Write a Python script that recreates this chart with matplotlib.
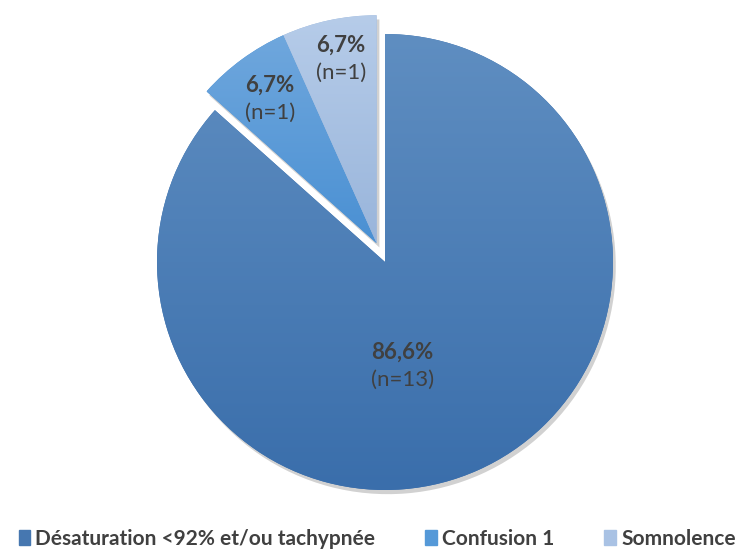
import numpy as np
import matplotlib
matplotlib.use("Agg")
import matplotlib.pyplot as plt
import matplotlib.patheffects as pe
from matplotlib.colors import LinearSegmentedColormap

categories = ["Désaturation <92% et/ou tachypnée", "Confusion 1", "Somnolence"]
percents = [86.6, 6.7, 6.7]
counts = [13, 1, 1]
pct_labels = ["86,6%", "6,7%", "6,7%"]

# gradient colours (top, bottom) per slice
grad = [("#5f8ec1", "#3a6eab"), ("#6fa7dd", "#4a90d3"), ("#b6cce9", "#99b5db")]
legend_col = ["#4677b0", "#5599d8", "#a9c2e4"]

plt.rcParams['font.family'] = ['Lato', 'DejaVu Sans']

fig = plt.figure(figsize=(7.54, 5.50), dpi=100)
R = 228  # px
half = 1.2
side = 2 * half * R
cx, cy = 385, 550 - 262
ax = fig.add_axes([(cx - side / 2) / 754, (cy - side / 2) / 550, side / 754, side / 550])
ax.set_xlim(-half, half)
ax.set_ylim(-half, half)
ax.set_aspect("equal")
ax.axis("off")

wedges, _ = ax.pie(percents, startangle=90, counterclock=False, radius=1,
                   colors=[g[1] for g in grad])

# explode the two small slices together along their common bisector
small_frac = sum(percents[1:]) / sum(percents)
ang = np.deg2rad(90 + small_frac * 360 / 2)
off = 0.09
for w in wedges[1:]:
    w.set_center((off * np.cos(ang), off * np.sin(ang)))

for w, (c_top, c_bot) in zip(wedges, grad):
    w.set_edgecolor("none")
    w.set_path_effects([pe.SimplePatchShadow(offset=(2, -3), shadow_rgbFace="#000000", alpha=0.18),
                        pe.Normal()])
    bb = w.get_path().get_extents(w.get_patch_transform())
    cmap = LinearSegmentedColormap.from_list("g", [c_bot, c_top])
    img = ax.imshow(np.linspace(0, 1, 256).reshape(-1, 1), cmap=cmap, origin="lower",
                    extent=[bb.x0, bb.x1, bb.y0, bb.y1], aspect="auto", zorder=w.get_zorder() + 0.5)
    img.set_clip_path(w)
ax.set_xlim(-half, half)
ax.set_ylim(-half, half)

# labels
label_pos = [(0.075, -0.395), (-0.504, 0.776), (-0.193, 0.952)]
for (x, y), p, n in zip(label_pos, pct_labels, counts):
    ax.text(x, y, p, ha="center", va="center", fontsize=16, fontweight="bold", color="#404040", zorder=10)
    ax.text(x, y - 0.121, f"(n={n})", ha="center", va="center", fontsize=16, color="#404040", zorder=10)

handles = [plt.Rectangle((0, 0), 1, 1, color=c) for c in legend_col]
fig.legend(handles, categories, loc="lower left", bbox_to_anchor=(0.0, -0.032), ncol=3,
           frameon=False, handlelength=0.55, handleheight=0.7, handletextpad=0.25,
           columnspacing=2.4, prop={"size": 15, "weight": "bold"}, labelcolor="#404040")

fig.savefig("out.png", dpi=100)
